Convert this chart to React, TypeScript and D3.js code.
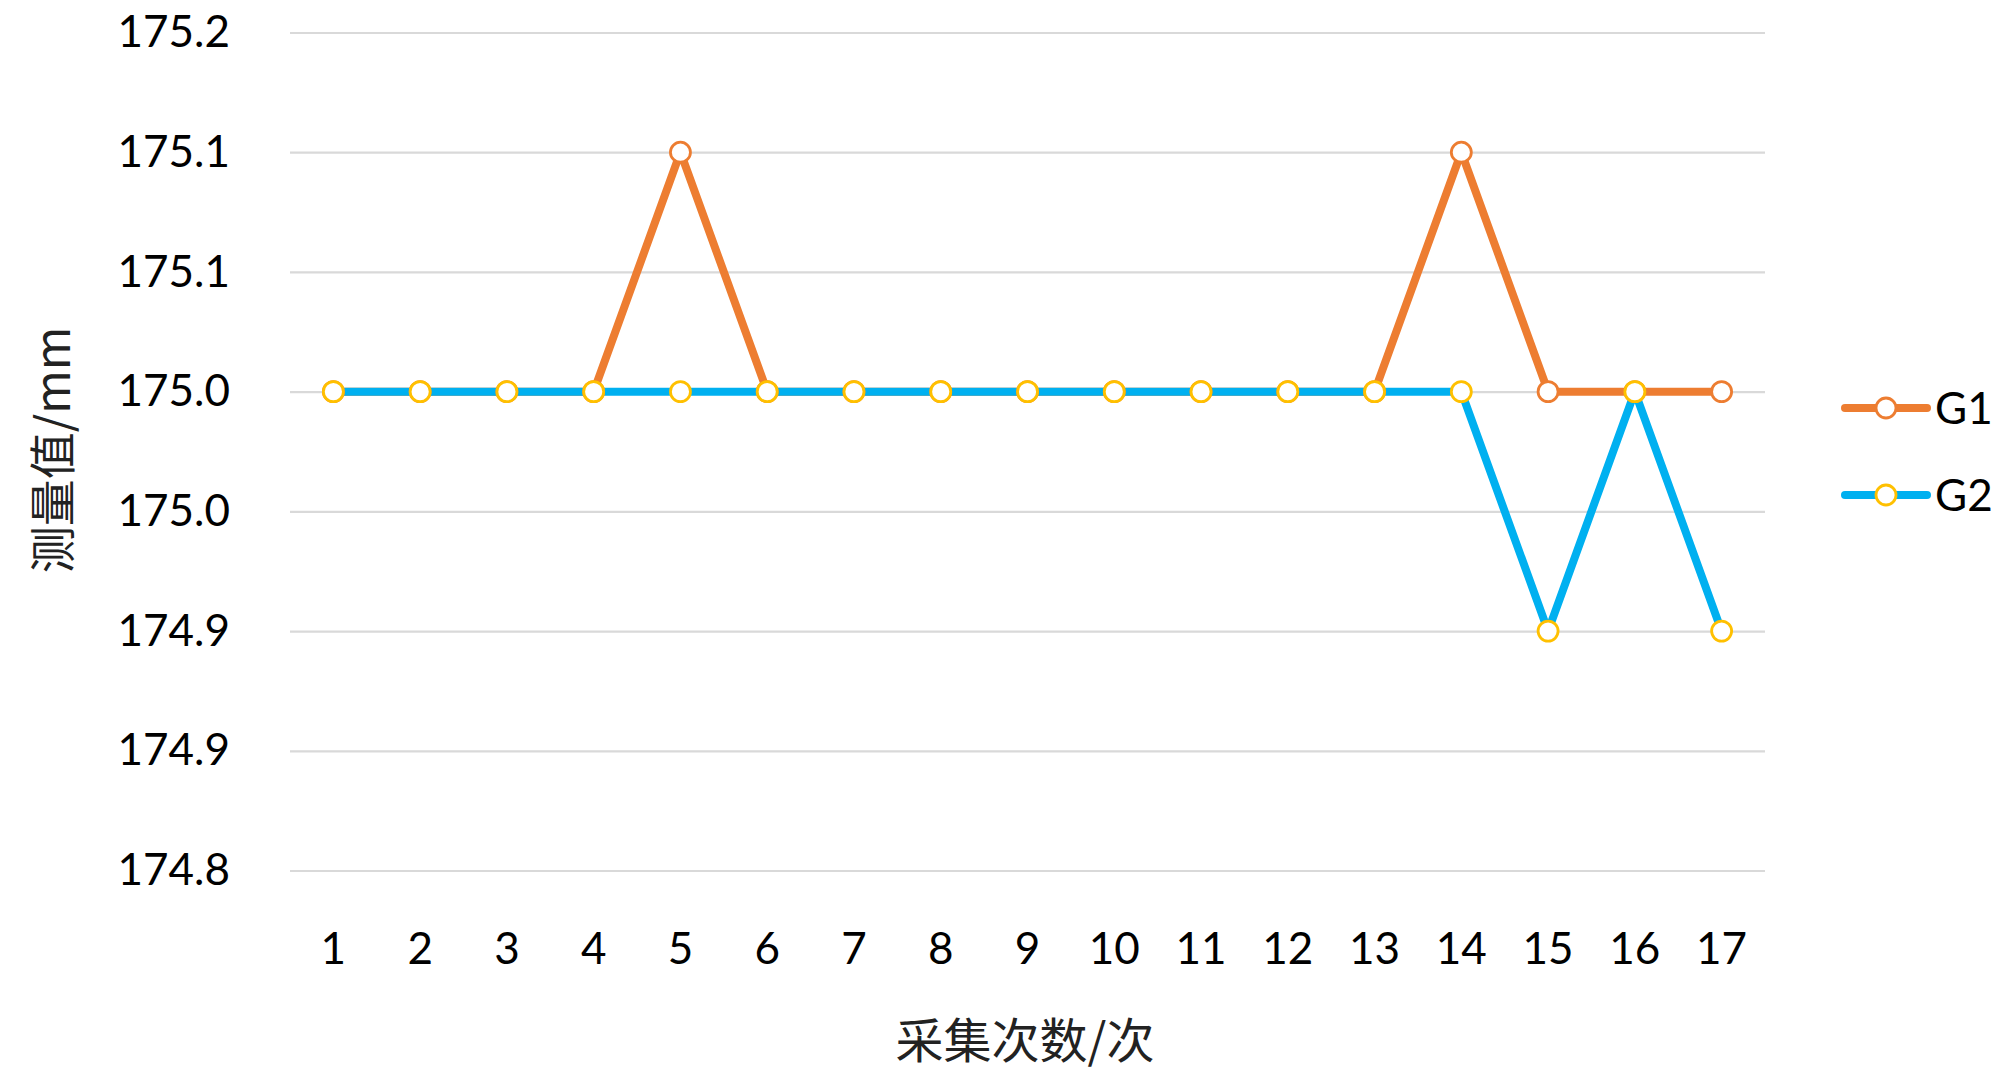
import React, { useRef, useEffect } from "react";
import * as d3 from "d3";

const runs = ["1", "2", "3", "4", "5", "6", "7", "8", "9", "10", "11", "12", "13", "14", "15", "16", "17"];
const g1 = [175.0, 175.0, 175.0, 175.0, 175.1, 175.0, 175.0, 175.0, 175.0, 175.0, 175.0, 175.0, 175.0, 175.1, 175.0, 175.0, 175.0];
const g2 = [175.0, 175.0, 175.0, 175.0, 175.0, 175.0, 175.0, 175.0, 175.0, 175.0, 175.0, 175.0, 175.0, 175.0, 174.9, 175.0, 174.9];
const yTicks = [174.8, 174.85, 174.9, 174.95, 175.0, 175.05, 175.1, 175.15];
const yTickLabels = ["174.8", "174.9", "174.9", "175.0", "175.0", "175.1", "175.1", "175.2"];
const seriesNames = ["G1", "G2"];

const App = () => {
    const chartRef = useRef<HTMLDivElement>(null);

    useEffect(() => {
        const width = 1999;
        const height = 1077;
        const marginTop = 32.5;
        const plotBottom = 870.5;
        const marginLeft = 290;
        const plotRight = 1765;
        const font = "Lato, 'Open Sans', sans-serif";

        const series = [
            { name: seriesNames[0], values: g1, line: "#ED7D31", marker: "#ED7D31" },
            { name: seriesNames[1], values: g2, line: "#00B0F0", marker: "#FFC000" },
        ];

        const x = d3.scaleBand().domain(runs).range([marginLeft, plotRight]);
        const cx = (r: string) => (x(r) as number) + x.bandwidth() / 2;

        const y = d3.scaleLinear()
            .domain([yTicks[0], yTicks[yTicks.length - 1]])
            .range([plotBottom, marginTop]);

        const svg = d3.create("svg")
            .attr("width", width)
            .attr("height", height)
            .attr("viewBox", [0, 0, width, height])
            .style("position", "absolute")
            .style("left", "0px")
            .style("top", "0px")
            .style("background", "#fff");

        // y axis: gridlines + labels
        const yAxis = svg.append("g")
            .attr("transform", `translate(${marginLeft},0)`)
            .call(d3.axisLeft(y)
                .tickValues(yTicks)
                .tickSize(0)
                .tickPadding(60)
                .tickFormat((d, i) => yTickLabels[i]))
            .call(g => g.select(".domain").remove());
        yAxis.selectAll(".tick line").clone()
            .attr("x2", plotRight - marginLeft)
            .attr("stroke", "#D9D9D9")
            .attr("stroke-width", 2.2);
        yAxis.selectAll(".tick text")
            .attr("fill", "#000")
            .style("font", `44px ${font}`);

        // x axis labels
        svg.append("g")
            .attr("transform", `translate(0,${plotBottom})`)
            .call(d3.axisBottom(x).tickSize(0).tickPadding(62))
            .call(g => g.select(".domain").remove())
            .selectAll(".tick text")
            .attr("fill", "#000")
            .style("font", `44px ${font}`);

        // axis titles
        svg.append("text")
            .attr("x", 1025)
            .attr("y", 1058)
            .attr("text-anchor", "middle")
            .attr("fill", "#222")
            .style("font", "48px 'Noto Sans CJK SC', sans-serif")
            .text("采集次数/次");

        svg.append("text")
            .attr("transform", `translate(70,450) rotate(-90)`)
            .attr("text-anchor", "middle")
            .attr("fill", "#222")
            .style("font", "47px 'Noto Sans CJK SC', sans-serif")
            .text("测量值/mm");

        const line = d3.line<number>()
            .x((d, i) => cx(runs[i]))
            .y(d => y(d));

        series.forEach(s => {
            svg.append("path")
                .datum(s.values)
                .attr("fill", "none")
                .attr("stroke", s.line)
                .attr("stroke-width", 8)
                .attr("stroke-linejoin", "round")
                .attr("stroke-linecap", "round")
                .attr("d", line);
        });
        series.forEach(s => {
            svg.append("g")
                .selectAll("circle")
                .data(s.values)
                .join("circle")
                .attr("cx", (d, i) => cx(runs[i]))
                .attr("cy", d => y(d))
                .attr("r", 10)
                .attr("fill", "#fff")
                .attr("stroke", s.marker)
                .attr("stroke-width", 2.8);
        });

        // legend
        series.forEach((s, i) => {
            const ly = 408 + i * 87;
            const lg = svg.append("g");
            lg.append("line")
                .attr("x1", 1845)
                .attr("x2", 1927)
                .attr("y1", ly)
                .attr("y2", ly)
                .attr("stroke", s.line)
                .attr("stroke-width", 8)
                .attr("stroke-linecap", "round");
            lg.append("circle")
                .attr("cx", 1886)
                .attr("cy", ly)
                .attr("r", 10)
                .attr("fill", "#fff")
                .attr("stroke", s.marker)
                .attr("stroke-width", 2.8);
            lg.append("text")
                .attr("x", 1935)
                .attr("y", ly)
                .attr("dy", "0.36em")
                .attr("fill", "#000")
                .style("font", `44px ${font}`)
                .text(s.name);
        });

        chartRef.current!.innerHTML = "";
        chartRef.current!.appendChild(svg.node()!);
    }, []);

    return <div ref={chartRef} />;
};

export default App;
